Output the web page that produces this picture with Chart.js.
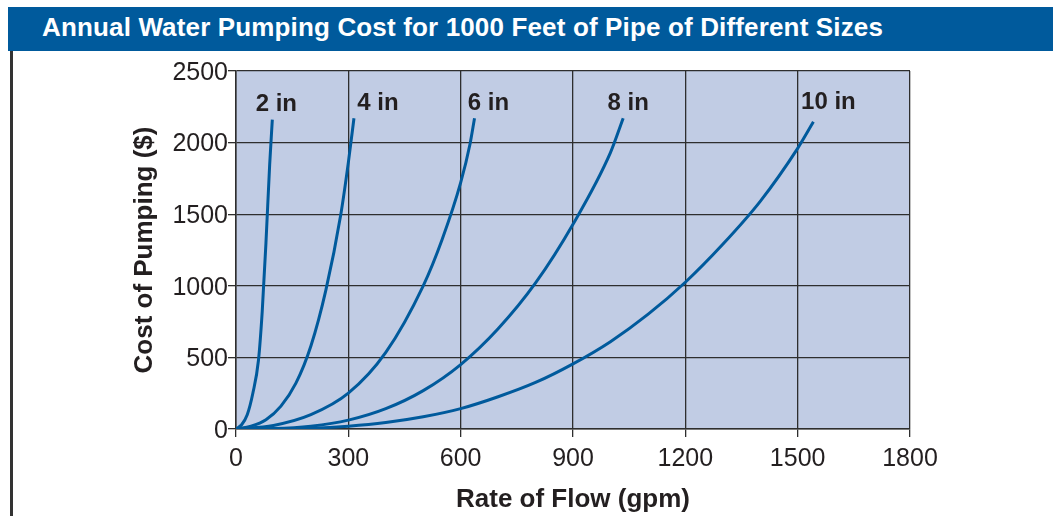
<!DOCTYPE html>
<html>
<head>
<meta charset="utf-8">
<script src="https://cdn.jsdelivr.net/npm/chart.js@4.4.1/dist/chart.umd.min.js"></script>
<style>
  body { margin: 0; background: #fff; }
  #banda {
    position: absolute; left: 8px; top: 7px; right: 0; height: 44px;
    background: #005a9c; color: #fff;
    font: bold 26px "Liberation Sans", Arial, sans-serif;
    letter-spacing: 0.15px; line-height: 40px; padding-left: 34px;
    box-sizing: border-box; white-space: nowrap; z-index: 2;
  }
  #bordeIzq {
    position: absolute; left: 10px; top: 51px; bottom: 0; width: 2.5px;
    background: #333; z-index: 2;
  }
  #graficaCosto { position: absolute; left: 0; top: 0; }
</style>
</head>
<body>
<div id="banda">Annual Water Pumping Cost for 1000 Feet of Pipe of Different Sizes</div>
<div id="bordeIzq"></div>
<canvas id="graficaCosto" width="1053" height="516"></canvas>
<script>
const pipeLabels = ['2 in', '4 in', '6 in', '8 in', '10 in'];

const flow2 = [0, 15, 30, 45, 60, 70, 80, 90, 97];
const cost2 = [0, 30, 100, 250, 480, 820, 1300, 1850, 2160];

const flow4 = [0, 40, 80, 120, 160, 200, 240, 280, 300, 315];
const cost4 = [0, 20, 65, 160, 320, 580, 970, 1500, 1860, 2170];

const flow6 = [0, 100, 200, 300, 400, 500, 550, 600, 625, 637];
const cost6 = [0, 25, 100, 250, 535, 1000, 1320, 1720, 1990, 2170];

const flow8 = [0, 100, 200, 300, 400, 500, 600, 700, 800, 900, 1000, 1034];
const cost8 = [0, 3, 20, 62, 142, 268, 450, 700, 1020, 1430, 1930, 2170];

const flow10 = [0, 200, 300, 400, 500, 600, 700, 800, 900, 1000, 1100, 1200, 1300, 1400, 1500, 1542];
const cost10 = [0, 6, 20, 45, 85, 142, 225, 325, 455, 610, 800, 1025, 1290, 1590, 1960, 2145];

const flowTicks = [0, 300, 600, 900, 1200, 1500, 1800];
const costTicks = [0, 500, 1000, 1500, 2000, 2500];

const series = [[flow2, cost2], [flow4, cost4], [flow6, cost6], [flow8, cost8], [flow10, cost10]];

const colorLinea = '#005a9c';
const colorTexto = '#231f20';
const colorRejilla = '#2e2e2e';

const datasets = series.map(function (s, i) {
    return {
        label: pipeLabels[i],
        data: s[0].map(function (x, j) { return {x: x, y: s[1][j]}; }),
        borderColor: colorLinea,
        borderWidth: 3,
        pointRadius: 0,
        showLine: true,
        fill: false,
        cubicInterpolationMode: 'monotone'
    };
});

// relleno azul claro del área de trazado
const fondoArea = {
    id: 'fondoArea',
    beforeDraw(chart) {
        const {ctx, chartArea: a} = chart;
        ctx.save();
        ctx.fillStyle = '#c1cce4';
        ctx.fillRect(a.left, a.top, a.right - a.left, a.bottom - a.top);
        ctx.restore();
    }
};

// nombre de cada tubería sobre el final de su curva
const etiquetasCurvas = {
    id: 'etiquetasCurvas',
    afterDatasetsDraw(chart) {
        const ctx = chart.ctx;
        const desplazaX = [4, 24, 14, 5, 15];
        const desplazaY = [-15, -15, -15, -15, -19];
        ctx.save();
        ctx.font = 'bold 24px "Liberation Sans", Arial, sans-serif';
        ctx.fillStyle = colorTexto;
        ctx.textAlign = 'center';
        ctx.textBaseline = 'middle';
        chart.data.datasets.forEach(function (ds, i) {
            const puntos = chart.getDatasetMeta(i).data;
            const fin = puntos[puntos.length - 1];
            ctx.fillText(ds.label, fin.x + desplazaX[i], fin.y + desplazaY[i]);
        });
        ctx.restore();
    }
};

const fuenteTicks = {family: '"Liberation Sans", Arial, sans-serif', size: 25};
const fuenteTitulo = {family: '"Liberation Sans", Arial, sans-serif', size: 26, weight: 'bold'};
const sinComas = function (v) { return String(v); };

new Chart(document.getElementById('graficaCosto'), {
    type: 'scatter',
    data: {datasets: datasets},
    plugins: [fondoArea, etiquetasCurvas],
    options: {
        responsive: false,
        animation: false,
        devicePixelRatio: 1,
        layout: {padding: {left: 0, top: 71, right: 143, bottom: 0}},
        plugins: {legend: {display: false}, tooltip: {enabled: false}},
        scales: {
            x: {
                type: 'linear',
                min: 0,
                max: 1800,
                afterBuildTicks: function (scale) {
                    scale.ticks = flowTicks.map(function (v) { return {value: v}; });
                },
                afterFit: function (scale) { scale.height = 87; },
                ticks: {color: colorTexto, font: fuenteTicks, padding: 7, maxRotation: 0, callback: sinComas},
                grid: {color: colorRejilla, lineWidth: 1.3, tickLength: 8},
                border: {color: colorRejilla, width: 1.5},
                title: {display: true, text: 'Rate of Flow (gpm)', color: colorTexto, font: fuenteTitulo, padding: {top: 0, bottom: 1}}
            },
            y: {
                type: 'linear',
                min: 0,
                max: 2500,
                afterBuildTicks: function (scale) {
                    scale.ticks = costTicks.map(function (v) { return {value: v}; });
                },
                afterFit: function (scale) { scale.width = 236; },
                ticks: {color: colorTexto, font: fuenteTicks, padding: 0, labelOffset: 2, callback: sinComas},
                grid: {color: colorRejilla, lineWidth: 1.3, tickLength: 8},
                border: {color: colorRejilla, width: 1.5},
                title: {display: true, text: 'Cost of Pumping ($)', color: colorTexto, font: fuenteTitulo, padding: {top: 129, bottom: 0}}
            }
        }
    }
});
</script>
</body>
</html>
